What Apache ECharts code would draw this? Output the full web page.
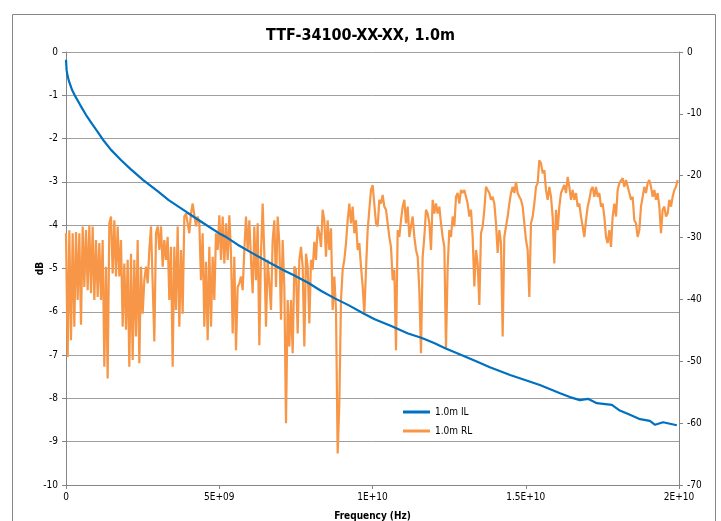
<!DOCTYPE html>
<html>
<head>
<meta charset="utf-8">
<script src="https://cdn.jsdelivr.net/npm/echarts@6/dist/echarts.min.js"></script>
<style>html,body{margin:0;padding:0;background:#fff;overflow:hidden}#c{width:721px;height:521px}</style>
</head>
<body>
<div id="c"></div>
<script>
// ---- data ----
var title = 'TTF-34100-XX-XX, 1.0m';
var seriesNames = ['1.0m IL', '1.0m RL'];
var xTickVals = [0, 5e9, 1e10, 1.5e10, 2e10];
var xTickLabels = ['0', '5E+09', '1E+10', '1.5E+10', '2E+10'];

// Insertion loss (left axis, dB): frequency in GHz, value in dB
var ilFreqGHz = [0,0.02,0.05,0.1,0.2,0.3,0.46,0.65,0.85,1.05,1.2,1.47,1.8,2.1,2.52,3.0,3.35,3.94,4.5,5.0,5.24,5.6,6.09,6.6,7.18,7.42,7.9,8.33,8.77,9.2,9.74,10.07,10.61,11.16,11.59,12.01,12.37,12.9,13.4,13.83,14.49,15.0,15.46,16.12,16.44,16.77,17.03,17.32,17.81,18.07,18.4,18.73,19.05,19.22,19.48,19.93];
var ilValues = [-0.18,-0.42,-0.55,-0.68,-0.88,-1.02,-1.22,-1.45,-1.66,-1.86,-2.02,-2.26,-2.5,-2.7,-2.96,-3.22,-3.42,-3.70,-3.96,-4.19,-4.28,-4.45,-4.65,-4.85,-5.07,-5.15,-5.33,-5.52,-5.69,-5.84,-6.05,-6.17,-6.33,-6.50,-6.60,-6.72,-6.84,-7.0,-7.15,-7.28,-7.46,-7.58,-7.69,-7.88,-7.97,-8.04,-8.01,-8.11,-8.15,-8.28,-8.38,-8.48,-8.52,-8.61,-8.55,-8.62];

// Return loss (right axis, dB), sampled every rlStepHz starting at 0 Hz
var rlStepHz = 5.4377e7;
var rlSeg1 = [-29.3,-49.3,-28.8,-46.6,-29.3,-44.4,-29.1,-40.1,-29.3,-44.1,
-28.2,-38.0,-28.8,-38.5,-28.0,-39.0,-28.2,-40.1,-30.4,-39.6,
-30.9,-40.1,-30.4,-50.9,-34.7,-52.8,-27.7,-26.6,-35.8,-27.2,
-36.3,-28.2,-36.3,-30.4,-44.4,-34.2,-44.9,-33.6,-50.9,-32.6,
-49.8,-33.6,-46.0,-30.4,-50.3,-34.7,-42.3,-36.9,-34.7,-37.4,
-32.0,-28.2,-37.4,-46.8,-29.3,-28.2,-32.0,-28.2,-34.7,-30.4,
-33.6,-29.9,-40.1,-31.5,-50.9,-31.5,-41.7,-28.2,-44.4,-32.0,
-42.3,-26.6];
var rlSeg2 = [-26.1,-26.1,-29.3,-26.1,-24.5,-24.2,-28.2,-26.6,-27.7,-36.9,
-29.3,-44.4,-33.9,-46.6,-31.5,-44.4,-33.1,-40.1,-29.3,-32.0,
-26.4,-33.6,-26.6,-34.2,-27.7,-33.6,-26.4,-32.6,-45.5,-33.1,
-48.2,-38.0,-37.4,-36.3,-38.5,-32.0,-26.6,-32.0,-27.2,-33.6,
-39.0,-28.2,-36.9,-27.7,-47.4,-32.6,-24.5,-32.6,-44.4,-33.6,
-37.4,-41.7,-30.4,-27.2,-38.0,-26.6,-30.9,-43.3,-30.4,-38.0,
-60.0,-40.1,-47.6,-40.1,-48.7,-34.7,-35.2,-45.5,-33.6,-31.5,
-34.7,-47.6,-32.6,-34.7];
var rlSeg3 = [-43.9,-33.6,-35.2,-30.7,-33.6,-28.2,-29.3,-31.5,-25.5,-27.2,
-33.1,-27.2,-32.0,-28.5,-41.7,-36.3,-41.7,-64.9,-56.8,-40.1,
-35.2,-33.6,-30.9,-27.2,-24.5,-27.7,-25.0,-29.3,-27.2,-32.0,
-30.9,-34.7,-37.9,-42.3,-35.2,-28.8,-25.5,-22.3,-21.5,-21.8,
-27.7,-28.2,-23.9,-24.5,-23.1,-25.0,-25.5,-27.7,-29.9,-31.5,
-36.9,-35.2,-48.2,-28.8,-29.9,-27.2,-25.0,-23.9,-27.7,-25.0,
-29.9,-28.2,-26.6,-29.9,-32.0,-33.1,-38.5,-48.7,-33.1,-29.9,
-25.5,-26.1,-27.7];
var rlSeg4 = [-32.0,-23.9,-26.1,-24.5,-26.1,-25.0,-27.7,-29.9,-31.5,-47.9,
-34.7,-28.8,-29.9,-26.6,-28.2,-23.4,-22.8,-24.5,-22.3,-22.8,
-22.3,-22.6,-24.5,-26.6,-25.5,-29.9,-37.9,-32.0,-34.2,-40.9,
-29.3,-28.2,-25.5,-21.8,-22.3,-22.8,-23.9,-23.4,-24.5,-27.7,
-32.5,-28.8,-30.9,-46.0,-29.9,-28.2,-26.6,-24.5,-22.8,-21.8,
-22.8,-21.0,-22.8,-23.4,-23.9,-25.0,-27.7,-30.4,-32.0,-39.6,
-27.7,-26.6,-24.5,-21.8,-21.2,-17.5,-18.0,-19.6,-19.1,-22.3,
-23.9,-21.8,-23.4];
var rlSeg5 = [-26.6,-34.2,-25.5,-28.8,-25.0,-22.8,-22.6,-21.5,-22.8,-20.2,
-21.8,-23.9,-22.3,-23.9,-22.8,-25.0,-24.5,-26.6,-28.2,-29.9,
-27.2,-25.0,-23.9,-22.3,-21.8,-23.4,-21.8,-23.4,-22.8,-25.0,
-24.5,-26.6,-29.9,-30.9,-28.8,-31.5,-26.6,-24.5,-26.6,-22.3,
-21.2,-21.0,-20.4,-21.8,-20.7,-20.7,-22.8,-23.9,-23.4,-27.2,
-27.7,-29.9,-28.8,-25.0,-23.4,-21.8,-22.8,-21.2,-20.7,-21.8,
-23.4,-22.3,-23.9,-22.8,-25.0,-29.3,-25.5,-25.0,-26.6,-26.1,
-23.9,-25.0,-23.4,-22.3,-21.8,-20.7];

// ---- build ----
var FONT = "'Liberation Sans Narrow','DejaVu Sans Condensed','Liberation Sans',sans-serif";
var ilData = ilFreqGHz.map(function (f, i) { return [f * 1e9, ilValues[i]]; });
var rlAll = rlSeg1.concat(rlSeg2, rlSeg3, rlSeg4, rlSeg5);
var rlData = rlAll.map(function (v, i) { return [i * rlStepHz, v]; });

var chart = echarts.init(document.getElementById('c'), null, { renderer: 'canvas' });
var axisGray = '#868686';
chart.setOption({
  animation: false,
  backgroundColor: '#fff',
  textStyle: { fontFamily: FONT },
  title: {
    text: title, left: 'center', top: 23,
    textStyle: { fontFamily: FONT, fontSize: 16, fontWeight: 'bold', color: '#000' }
  },
  graphic: [{
    type: 'rect', left: 10, top: 12, z: -1, silent: true,
    shape: { width: 703, height: 530 },
    style: { fill: 'none', stroke: '#868686', lineWidth: 1 }
  }],
  grid: { left: 66, top: 52, width: 613, height: 433, containLabel: false, outerBoundsMode: 'none' },
  legend: {
    orient: 'vertical', left: 398, top: 402, itemGap: 9,
    itemWidth: 27, itemHeight: 3, icon: 'rect',
    textStyle: { fontFamily: FONT, fontSize: 10, color: '#000' },
    data: seriesNames
  },
  xAxis: {
    type: 'value', min: 0, max: 2e10, interval: 5e9,
    name: 'Frequency (Hz)', nameLocation: 'middle', nameGap: 26, nameMoveOverlap: false,
    nameTextStyle: { fontFamily: FONT, fontSize: 10, fontWeight: 'bold', color: '#000' },
    axisLine: { show: true, onZero: false, lineStyle: { color: axisGray, width: 1 } },
    axisTick: { show: true, length: 4, lineStyle: { color: axisGray } },
    splitLine: { show: false },
    axisLabel: {
      fontFamily: FONT, fontSize: 10, color: '#000', margin: 7,
      formatter: function (v) { var k = xTickVals.indexOf(v); return k >= 0 ? xTickLabels[k] : ''; }
    }
  },
  yAxis: [{
    type: 'value', min: -10, max: 0, interval: 1, position: 'left',
    name: 'dB', nameLocation: 'middle', nameGap: 21, nameRotate: 90, nameMoveOverlap: false,
    nameTextStyle: { fontFamily: FONT, fontSize: 10, fontWeight: 'bold', color: '#000' },
    axisLine: { show: true, lineStyle: { color: axisGray, width: 1 } },
    axisTick: { show: true, length: 4, lineStyle: { color: axisGray } },
    splitLine: { show: true, lineStyle: { color: '#A0A0A0', width: 1 } },
    axisLabel: { fontFamily: FONT, fontSize: 10, color: '#000', margin: 8 }
  }, {
    type: 'value', min: -70, max: 0, interval: 10, position: 'right',
    axisLine: { show: true, lineStyle: { color: axisGray, width: 1 } },
    axisTick: { show: true, length: 4, lineStyle: { color: axisGray } },
    splitLine: { show: false },
    axisLabel: { fontFamily: FONT, fontSize: 10, color: '#000', margin: 8 }
  }],
  series: [{
    name: seriesNames[0], type: 'line', yAxisIndex: 0, data: ilData,
    showSymbol: false, symbol: 'none', smooth: false, z: 3,
    lineStyle: { color: '#0070C0', width: 2.2 }, itemStyle: { color: '#0070C0' }
  }, {
    name: seriesNames[1], type: 'line', yAxisIndex: 1, data: rlData,
    showSymbol: false, symbol: 'none', smooth: false, z: 2,
    lineStyle: { color: '#F79646', width: 2.2 }, itemStyle: { color: '#F79646' }
  }]
});
</script>
</body>
</html>
